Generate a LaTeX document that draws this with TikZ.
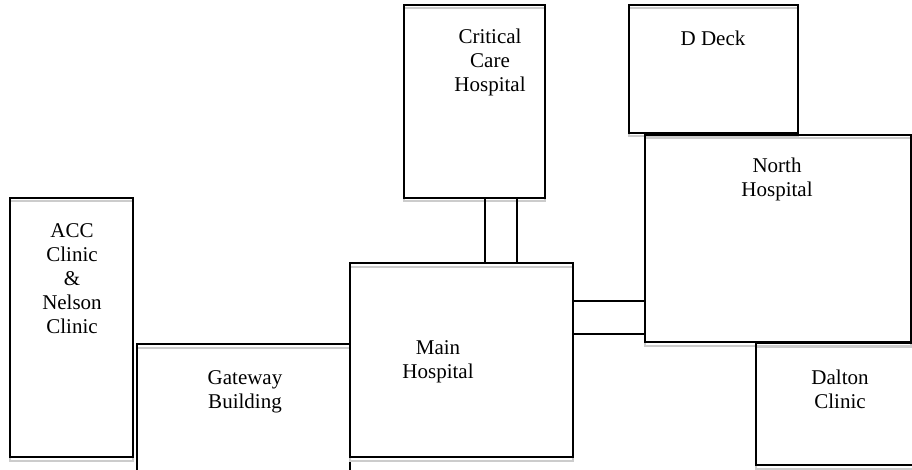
\documentclass[tikz,border=0pt]{standalone}
\usepackage{fontspec}
\setmainfont{Liberation Serif}
\begin{document}
\begin{tikzpicture}[x=1pt,y=-1pt,
  bldg/.style={draw=black, line width=2.7pt, rectangle, inner sep=0pt, outer sep=0pt,
    preaction={draw=black!20, line width=2pt, transform canvas={yshift=-3.5pt}}},
  lbl/.style={align=center, inner sep=0pt, font=\fontsize{21}{24}\selectfont},
  link/.style={draw=black, line width=2.7pt}]
\useasboundingbox (0,0) rectangle (912,470);
\clip (0,0) rectangle (912,470);
\node[bldg, minimum width=123pt, minimum height=259pt] (acc) at (71.5,327.5) {};
\node[bldg, minimum width=213pt, minimum height=146pt] (gate) at (243.5,417) {};
\node[bldg, minimum width=223pt, minimum height=194pt] (main) at (461.5,360) {};
\node[bldg, minimum width=141pt, minimum height=193pt] (cch) at (474.5,101.5) {};
\node[bldg, minimum width=169pt, minimum height=128pt] (ddeck) at (713.5,69) {};
\node[bldg, minimum width=266pt, minimum height=207pt] (north) at (778,238.5) {};
\node[bldg, minimum width=176pt, minimum height=122pt] (dalton) at (844,404) {};
% labels
\node[lbl] (taccc) at (72,279) {ACC\\Clinic\\\&\\Nelson\\Clinic};
\node[lbl] (tgate) at (245,392) {Gateway\\Building};
\node[lbl] (tmain) at (438,362) {Main\\Hospital};
\node[lbl] (tcch) at (490,62) {Critical\\Care\\Hospital};
\node[lbl] (tddeck) at (713,38) {D Deck};
\node[lbl] (tnorth) at (777,179) {North\\Hospital};
\node[lbl] (tdalton) at (840,389) {Dalton\\Clinic};
% connectors
\draw[link] ([xshift=10.5pt]cch.south) -- ([xshift=10.5pt]cch.south |- main.north);
\draw[link] ([xshift=42.5pt]cch.south) -- ([xshift=42.5pt]cch.south |- main.north);
\draw[link] ([yshift=59pt]main.east) -- ([yshift=59pt]main.east -| north.west);
\draw[link] ([yshift=26pt]main.east) -- ([yshift=26pt]main.east -| north.west);
\end{tikzpicture}
\end{document}
